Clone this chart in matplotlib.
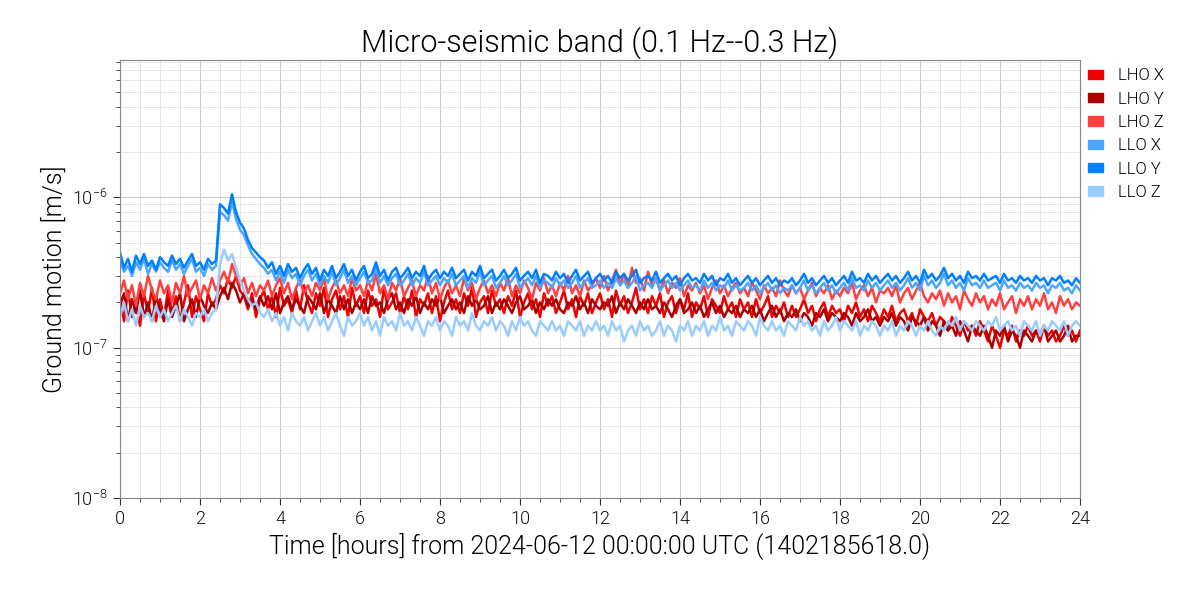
"""Micro-seismic band ground motion, LHO and LLO, 24 hours
"""
import numpy as np
import matplotlib
matplotlib.use("Agg")
import matplotlib.pyplot as plt
from matplotlib.patches import Patch
from matplotlib.ticker import LogLocator, MultipleLocator, NullFormatter

plt.rcParams['font.family'] = ['Roboto', 'DejaVu Sans']
plt.rcParams['font.weight'] = 300
plt.rcParams['axes.titleweight'] = 300
plt.rcParams['axes.labelweight'] = 300
plt.rcParams['mathtext.fontset'] = 'custom'
plt.rcParams['mathtext.rm'] = 'Roboto'
plt.rcParams['mathtext.it'] = 'Roboto'
plt.rcParams['mathtext.default'] = 'regular'

# hours since 2024-06-12 00:00 UTC, one sample every 0.1 h
hours = np.linspace(0, 24, 241)

# ground motion, units of 1e-7 m/s (12 samples per row = 1.2 h)
lho_x = [2.2, 1.5, 2.4, 1.6, 2.0, 1.4, 2.3, 1.7, 2.5, 1.5, 2.1, 1.6,
         2.4, 1.7, 2.2, 1.5, 2.0, 2.6, 1.6, 2.2, 1.8, 1.5, 2.3, 1.9,
         2.1, 2.6, 2.3, 2.9, 2.5, 3.0, 2.4, 2.2, 1.8, 2.3, 1.6, 2.1,
         2.4, 1.8, 2.2, 1.6, 2.5, 1.9, 2.1, 1.7, 2.4, 1.8, 2.6, 2.0,
         1.7, 2.3, 1.9, 2.5, 1.6, 2.1, 2.4, 1.8, 2.2, 1.6, 2.5, 1.9,
         2.2, 1.7, 2.4, 1.9, 2.1, 1.6, 2.5, 1.8, 2.0, 2.3, 1.7, 2.2,
         1.8, 2.4, 1.6, 2.1, 1.9, 2.3, 1.7, 2.2, 1.5, 2.0, 2.4, 1.8,
         2.1, 1.7, 2.3, 1.9, 2.5, 1.6, 2.0, 2.2, 1.7, 2.4, 1.9, 2.1,
         1.7, 2.2, 1.9, 2.4, 1.6, 2.0, 2.3, 1.8, 2.1, 1.6, 2.3, 1.9,
         2.2, 1.7, 2.0, 2.4, 1.8, 2.1, 1.6, 2.2, 1.9, 2.3, 1.7, 2.0,
         2.3, 1.8, 2.1, 1.6, 2.4, 1.9, 2.2, 1.7, 2.0, 2.5, 1.8, 2.1,
         1.7, 2.2, 1.9, 2.3, 1.6, 2.0, 2.2, 1.7, 2.1, 1.8, 2.3, 1.6,
         2.0, 1.8, 2.2, 1.6, 2.1, 1.9, 1.7, 2.2, 1.8, 2.0, 1.6, 2.1,
         1.8, 2.0, 1.6, 2.1, 1.7, 1.9, 2.2, 1.6, 1.9, 1.7, 2.0, 1.6,
         1.9, 1.6, 1.8, 2.1, 1.7, 1.9, 1.5, 1.8, 2.0, 1.6, 1.9, 1.7,
         1.8, 1.5, 1.9, 1.7, 2.0, 1.6, 1.8, 1.5, 1.9, 1.7, 1.5, 1.8,
         1.6, 1.9, 1.5, 1.7, 1.8, 1.5, 1.7, 1.4, 1.8, 1.6, 1.5, 1.7,
         1.4, 1.6, 1.5, 1.3, 1.6, 1.4, 1.2, 1.5, 1.3, 1.4, 1.2, 1.5,
         1.3, 1.1, 1.4, 1.2, 1.0, 1.3, 1.2, 1.4, 1.1, 1.3, 1.2, 1.4,
         1.2, 1.3, 1.1, 1.4, 1.2, 1.3, 1.1, 1.2, 1.4, 1.2, 1.3, 1.1,
         1.3]
lho_y = [1.9, 2.3, 1.5, 2.1, 1.7, 2.4, 1.6, 2.0, 1.5, 2.2, 1.8, 1.5,
         2.1, 1.6, 1.9, 2.3, 1.5, 1.8, 2.1, 1.6, 2.2, 1.9, 1.7, 2.0,
         1.8, 2.2, 2.5, 2.1, 2.7, 2.4, 2.0, 2.3, 1.9, 2.1, 1.8, 2.2,
         1.9, 2.2, 1.8, 2.3, 1.7, 2.0, 2.2, 1.8, 2.1, 1.9, 1.7, 2.2,
         2.0, 1.8, 2.3, 1.7, 2.1, 1.9, 1.7, 2.2, 1.8, 2.1, 1.7, 2.0,
         1.8, 2.1, 1.7, 2.2, 1.9, 2.0, 1.7, 2.1, 2.3, 1.8, 2.0, 1.7,
         2.1, 1.9, 2.2, 1.7, 2.0, 1.8, 2.1, 1.9, 2.2, 1.7, 1.9, 2.1,
         1.8, 2.0, 1.7, 2.2, 1.9, 2.1, 1.8, 1.9, 2.2, 1.7, 2.0, 1.8,
         2.1, 1.9, 1.7, 2.0, 2.2, 1.8, 1.9, 2.1, 1.7, 2.0, 1.8, 2.1,
         1.9, 2.1, 1.8, 1.7, 2.0, 1.9, 2.2, 1.8, 2.0, 1.7, 2.1, 1.9,
         1.8, 2.0, 1.9, 2.2, 1.7, 2.0, 1.8, 2.1, 1.9, 1.7, 2.0, 1.8,
         2.1, 1.8, 1.9, 1.7, 2.0, 1.8, 1.6, 1.9, 2.1, 1.7, 1.8, 2.0,
         1.7, 1.9, 1.6, 1.8, 2.0, 1.7, 1.9, 1.6, 1.8, 1.7, 1.9, 1.6,
         1.8, 1.7, 1.9, 1.6, 1.8, 1.5, 1.7, 1.9, 1.6, 1.8, 1.5, 1.7,
         1.6, 1.8, 1.5, 1.7, 1.6, 1.4, 1.7, 1.6, 1.8, 1.5, 1.7, 1.6,
         1.5, 1.7, 1.6, 1.4, 1.7, 1.5, 1.6, 1.8, 1.5, 1.6, 1.4, 1.6,
         1.5, 1.7, 1.4, 1.6, 1.5, 1.3, 1.6, 1.5, 1.4, 1.6, 1.3, 1.5,
         1.4, 1.2, 1.5, 1.3, 1.4, 1.2, 1.5, 1.3, 1.1, 1.4, 1.3, 1.2,
         1.4, 1.2, 1.0, 1.3, 1.2, 1.4, 1.1, 1.3, 1.2, 1.0, 1.3, 1.2,
         1.1, 1.3, 1.2, 1.4, 1.1, 1.2, 1.3, 1.1, 1.2, 1.4, 1.1, 1.2,
         1.2]
lho_z = [2.3, 2.8, 2.1, 2.6, 1.9, 2.7, 2.2, 3.0, 2.4, 2.1, 2.8, 2.3,
         2.6, 2.0, 2.7, 2.3, 3.0, 2.2, 2.5, 2.8, 2.1, 2.6, 2.3, 2.9,
         2.4, 2.8, 3.2, 2.7, 3.6, 3.0, 2.6, 2.9, 2.3, 2.7, 2.2, 2.6,
         2.4, 2.8, 2.2, 2.6, 2.9, 2.3, 2.7, 2.1, 2.5, 2.8, 2.3, 2.6,
         2.2, 2.7, 2.4, 2.9, 2.1, 2.5, 2.8, 2.3, 2.6, 2.2, 2.9, 2.4,
         2.6, 2.2, 2.8, 2.4, 3.1, 2.3, 2.6, 2.1, 2.7, 2.4, 2.9, 2.2,
         2.5, 2.8, 2.2, 2.6, 2.4, 3.0, 2.3, 2.7, 2.1, 2.5, 2.8, 2.3,
         2.6, 2.2, 2.9, 2.4, 2.7, 2.1, 2.5, 2.8, 2.3, 2.6, 2.2, 2.7,
         2.4, 2.9, 2.2, 2.6, 2.3, 2.8, 2.5, 2.1, 2.7, 2.4, 2.9, 2.3,
         2.6, 2.2, 2.7, 2.4, 3.0, 2.3, 2.6, 2.2, 2.8, 2.4, 2.6, 2.9,
         2.5, 3.0, 2.4, 2.8, 3.3, 2.6, 3.1, 2.5, 3.4, 2.7, 2.9, 2.4,
         3.2, 2.6, 2.9, 2.4, 2.8, 2.3, 2.7, 2.5, 2.9, 2.2, 2.6, 2.4,
         2.7, 2.3, 2.6, 2.1, 2.5, 2.8, 2.3, 2.6, 2.2, 2.5, 2.7, 2.3,
         2.5, 2.2, 2.7, 2.4, 2.1, 2.6, 2.3, 2.5, 2.2, 2.8, 2.4, 2.2,
         2.6, 2.3, 2.5, 2.1, 2.4, 2.7, 2.2, 2.5, 2.3, 2.6, 2.1, 2.4,
         2.2, 2.5, 2.3, 2.7, 2.1, 2.4, 2.6, 2.2, 2.5, 2.0, 2.4, 2.3,
         2.5, 2.2, 2.6, 2.0, 2.3, 2.5, 2.1, 2.4, 2.7, 2.2, 2.0, 2.3,
         2.1, 2.4, 1.9, 2.3, 2.0, 2.2, 1.8, 2.4, 2.1, 1.9, 2.3, 2.0,
         2.2, 1.8, 2.1, 1.9, 2.3, 1.8, 2.0, 2.2, 1.7, 2.1, 1.9, 2.2,
         1.8, 2.1, 1.9, 2.3, 1.8, 2.0, 1.7, 2.2, 1.9, 2.1, 1.8, 2.0,
         1.9]
llo_x = [3.8, 3.2, 3.5, 3.0, 3.7, 3.3, 3.9, 3.1, 3.6, 3.2, 3.7, 3.4,
         3.2, 3.8, 3.3, 3.6, 3.1, 3.5, 3.9, 3.2, 3.4, 3.0, 3.6, 3.3,
         3.5, 8.0, 7.6, 7.0, 9.3, 7.2, 6.1, 5.6, 4.8, 4.2, 3.9, 3.6,
         3.4, 3.1, 3.3, 2.8, 3.2, 2.7, 3.3, 2.9, 3.1, 2.6, 3.0, 3.3,
         2.8, 3.1, 2.6, 3.0, 2.7, 3.2, 2.6, 2.9, 3.3, 2.7, 3.0, 2.6,
         2.9, 3.2, 2.7, 2.8, 3.4, 2.7, 3.0, 2.6, 2.9, 3.1, 2.6, 2.8,
         3.1, 2.6, 2.9, 2.7, 3.2, 2.6, 2.8, 3.0, 2.6, 2.9, 2.7, 3.1,
         2.6, 2.8, 3.0, 2.5, 2.9, 2.7, 3.2, 2.6, 2.8, 3.0, 2.5, 2.7,
         3.0, 2.6, 2.8, 3.1, 2.5, 2.7, 2.9, 2.6, 3.0, 2.5, 2.8, 2.7,
         2.5, 2.9, 2.6, 2.8, 2.5, 2.7, 3.0, 2.5, 2.7, 2.9, 2.5, 2.6,
         2.8, 2.5, 2.7, 2.5, 2.9, 2.6, 2.8, 2.5, 2.7, 3.0, 2.4, 2.6,
         2.7, 2.5, 2.9, 2.4, 2.6, 2.8, 2.5, 2.7, 2.4, 2.6, 2.8, 2.5,
         2.6, 2.4, 2.8, 2.5, 2.7, 2.4, 2.6, 2.5, 2.8, 2.4, 2.6, 2.4,
         2.5, 2.7, 2.4, 2.6, 2.3, 2.5, 2.7, 2.4, 2.6, 2.3, 2.5, 2.4,
         2.6, 2.3, 2.5, 2.8, 2.4, 2.6, 2.3, 2.5, 2.7, 2.4, 2.6, 2.3,
         2.5, 2.7, 2.4, 2.9, 2.5, 2.6, 2.4, 2.8, 2.5, 2.7, 2.4, 2.6,
         2.8, 2.5, 2.7, 2.4, 2.6, 2.9, 2.5, 2.7, 2.4, 3.0, 2.6, 2.8,
         2.5, 2.7, 3.1, 2.6, 2.8, 2.5, 2.7, 2.4, 2.9, 2.6, 2.7, 2.5,
         2.8, 2.5, 2.6, 2.7, 2.4, 2.8, 2.5, 2.6, 2.4, 2.7, 2.5, 2.6,
         2.4, 2.7, 2.5, 2.6, 2.3, 2.6, 2.5, 2.7, 2.4, 2.5, 2.3, 2.6,
         2.4]
llo_y = [4.3, 3.4, 3.9, 3.2, 4.1, 3.6, 4.2, 3.5, 3.8, 3.3, 4.0, 3.7,
         3.5, 4.1, 3.6, 3.9, 3.4, 3.8, 4.2, 3.5, 3.7, 3.3, 3.9, 3.6,
         3.8, 9.0, 8.5, 7.8, 10.5, 8.0, 6.8, 6.2, 5.2, 4.6, 4.3, 4.0,
         3.8, 3.4, 3.7, 3.1, 3.5, 3.0, 3.6, 3.2, 3.4, 2.9, 3.3, 3.6,
         3.1, 3.4, 2.8, 3.3, 3.0, 3.5, 2.9, 3.2, 3.6, 3.0, 3.3, 2.8,
         3.2, 3.5, 2.9, 3.1, 3.7, 3.0, 3.3, 2.8, 3.2, 3.4, 2.9, 3.1,
         3.4, 2.9, 3.2, 3.0, 3.5, 2.8, 3.1, 3.3, 2.9, 3.2, 3.0, 3.4,
         2.9, 3.1, 3.3, 2.8, 3.2, 3.0, 3.5, 2.9, 3.1, 3.3, 2.8, 3.0,
         3.3, 2.9, 3.1, 3.4, 2.8, 3.0, 3.2, 2.9, 3.3, 2.7, 3.1, 3.0,
         2.8, 3.2, 2.9, 3.1, 2.7, 3.0, 3.3, 2.8, 3.0, 3.2, 2.7, 2.9,
         3.1, 2.8, 3.0, 2.7, 3.2, 2.9, 3.1, 2.8, 3.0, 3.3, 2.7, 2.9,
         3.0, 2.8, 3.2, 2.7, 2.9, 3.1, 2.8, 3.0, 2.6, 2.9, 3.1, 2.8,
         2.9, 2.7, 3.1, 2.8, 3.0, 2.6, 2.9, 2.8, 3.1, 2.7, 2.9, 2.6,
         2.8, 3.0, 2.7, 2.9, 2.6, 2.8, 3.0, 2.7, 2.9, 2.6, 2.8, 2.7,
         2.9, 2.6, 2.8, 3.1, 2.7, 2.9, 2.6, 2.8, 3.0, 2.7, 2.9, 2.6,
         2.8, 3.0, 2.7, 3.2, 2.8, 2.9, 2.7, 3.1, 2.8, 3.0, 2.7, 2.9,
         3.1, 2.8, 3.0, 2.7, 2.9, 3.2, 2.8, 3.0, 2.7, 3.3, 2.9, 3.1,
         2.8, 3.0, 3.4, 2.9, 3.1, 2.8, 3.0, 2.7, 3.2, 2.9, 3.0, 2.8,
         3.1, 2.8, 2.9, 3.0, 2.7, 3.1, 2.8, 2.9, 2.7, 3.0, 2.8, 2.9,
         2.7, 3.0, 2.8, 2.9, 2.6, 2.9, 2.8, 3.0, 2.7, 2.8, 2.6, 2.9,
         2.7]
llo_z = [1.6, 2.0, 1.5, 1.8, 1.4, 1.9, 1.6, 1.7, 1.5, 1.9, 1.6, 1.8,
         1.5, 1.7, 1.9, 1.5, 1.8, 1.6, 1.4, 1.7, 1.6, 1.8, 1.5, 1.7,
         1.8, 3.6, 4.5, 3.8, 4.2, 3.4, 2.8, 2.4, 2.1, 1.9, 2.0, 1.7,
         1.6, 1.8, 1.5, 1.7, 1.4, 1.6, 1.3, 1.7, 1.5, 1.4, 1.6, 1.3,
         1.5, 1.7, 1.4, 1.6, 1.3, 1.5, 1.7, 1.4, 1.2, 1.6, 1.4, 1.5,
         1.7, 1.4, 1.6, 1.3, 1.5, 1.2, 1.6, 1.4, 1.5, 1.3, 1.7, 1.4,
         1.5, 1.3, 1.6, 1.4, 1.2, 1.5, 1.4, 1.6, 1.3, 1.5, 1.4, 1.2,
         1.6, 1.4, 1.5, 1.3, 1.7, 1.4, 1.3, 1.5, 1.4, 1.6, 1.3, 1.5,
         1.4, 1.2, 1.5, 1.3, 1.6, 1.4, 1.5, 1.3, 1.2, 1.5, 1.4, 1.3,
         1.5, 1.3, 1.4, 1.2, 1.5, 1.4, 1.3, 1.5, 1.2, 1.4, 1.3, 1.5,
         1.3, 1.4, 1.2, 1.5, 1.3, 1.4, 1.1, 1.3, 1.4, 1.2, 1.5, 1.3,
         1.4, 1.2, 1.3, 1.5, 1.2, 1.4, 1.3, 1.1, 1.4, 1.3, 1.5, 1.2,
         1.4, 1.3, 1.5, 1.2, 1.4, 1.3, 1.6, 1.3, 1.4, 1.2, 1.5, 1.4,
         1.3, 1.5, 1.4, 1.2, 1.6, 1.4, 1.3, 1.5, 1.3, 1.4, 1.2, 1.5,
         1.4, 1.3, 1.6, 1.4, 1.5, 1.3, 1.4, 1.2, 1.5, 1.3, 1.4, 1.6,
         1.3, 1.5, 1.4, 1.3, 1.5, 1.2, 1.4, 1.3, 1.5, 1.4, 1.2, 1.4,
         1.3, 1.5, 1.2, 1.4, 1.3, 1.5, 1.4, 1.2, 1.4, 1.3, 1.5, 1.3,
         1.2, 1.4, 1.3, 1.5, 1.4, 1.6, 1.3, 1.5, 1.4, 1.3, 1.5, 1.4,
         1.3, 1.5, 1.4, 1.6, 1.3, 1.4, 1.5, 1.3, 1.4, 1.2, 1.5, 1.4,
         1.3, 1.5, 1.2, 1.4, 1.3, 1.5, 1.4, 1.3, 1.5, 1.2, 1.4, 1.5,
         1.4]

labels = ["LHO X", "LHO Y", "LHO Z", "LLO X", "LLO Y", "LLO Z"]
series = [lho_x, lho_y, lho_z, llo_x, llo_y, llo_z]
colors = ["#ee0000", "#a80000", "#ff4040", "#4ba6ff", "#0080ff", "#99ccff"]

fig = plt.figure(figsize=(12, 6), dpi=100)
ax = fig.add_axes([0.1, 0.17, 0.8, 0.73])

for vals, c, lab in zip(series, colors, labels):
    ax.plot(hours, np.array(vals) * 1e-7, color=c, lw=1.8, label=lab)

ax.set_yscale("log")
ax.set_xlim(0, 24)
ax.set_ylim(1e-8, 8.2e-6)
ax.xaxis.set_major_locator(MultipleLocator(2))
ax.xaxis.set_minor_locator(MultipleLocator(0.5))
ax.yaxis.set_major_locator(LogLocator(base=10))
ax.yaxis.set_minor_locator(LogLocator(base=10, subs=np.arange(2, 10)))
ax.yaxis.set_minor_formatter(NullFormatter())

ax.grid(True, which="major", color="#cccccc", lw=0.8)
ax.grid(True, which="minor", color="#e2e2e2", lw=0.6)
ax.set_axisbelow(True)
for s in ax.spines.values():
    s.set_color("#888888")
ax.tick_params(which="both", direction="out", color="#333333", labelsize=13,
               labelcolor="#111111")
ax.tick_params(which="major", length=5)
ax.tick_params(which="minor", length=3)

ax.set_title("Micro-seismic band (0.1 Hz--0.3 Hz)", fontsize=22, pad=6)
ax.set_xlabel("Time [hours] from 2024-06-12 00:00:00 UTC (1402185618.0)", fontsize=18)
ax.set_ylabel("Ground motion [m/s]", fontsize=18)

handles = [Patch(facecolor=c, edgecolor=c) for c in colors]
ax.legend(handles, labels, loc="upper left", bbox_to_anchor=(1.0, 1.0),
          borderaxespad=0.1, frameon=False, fontsize=12, handlelength=0.85,
          handleheight=0.5, handletextpad=0.9, labelspacing=0.5)

plt.savefig("out.png")
